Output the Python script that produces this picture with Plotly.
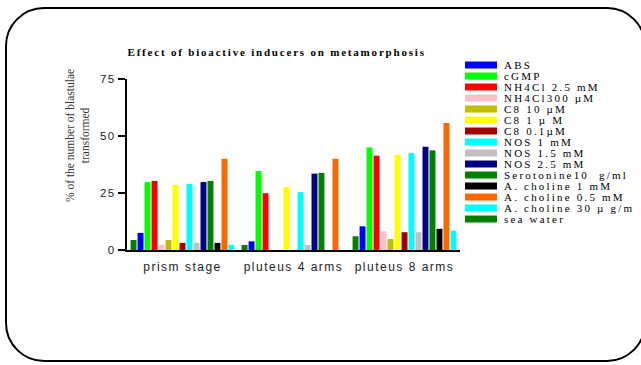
import plotly.graph_objects as go

# ---- data ----
stages = ["prism stage", "pluteus 4 arms", "pluteus 8 arms"]

legend_names = ["ABS", "cGMP", "NH4Cl 2.5 mM", "NH4Cl300 µM", "C8 10 µM", "C8 1 µ M",
                "C8 0.1µM", "NOS 1 mM", "NOS 1.5 mM", "NOS 2.5 mM", "Serotonine10  g/ml",
                "A. choline 1 mM", "A. choline 0.5 mM", "A. choline 30 µ g/m", "sea water"]

abs_vals = [7.5, 3.8, 10.4]
cgmp_vals = [29.8, 34.6, 45.0]
nh4cl_25_vals = [30.3, 24.9, 41.4]
nh4cl_300_vals = [2.3, 0, 8.2]
c8_10_vals = [4.4, 0, 4.8]
c8_1_vals = [28.5, 27.6, 41.7]
c8_01_vals = [3.1, 0, 7.8]
nos_1_vals = [29.0, 25.4, 42.5]
nos_15_vals = [3.1, 2.2, 7.8]
nos_25_vals = [29.8, 33.5, 45.3]
serotonine_vals = [30.3, 33.8, 43.7]
achol_1_vals = [3.1, 0, 9.3]
achol_05_vals = [40.0, 40.0, 55.7]
achol_30_vals = [2.3, 0, 8.5]
sea_water_vals = [4.4, 2.2, 6.0]

series_values = [abs_vals, cgmp_vals, nh4cl_25_vals, nh4cl_300_vals, c8_10_vals, c8_1_vals,
                 c8_01_vals, nos_1_vals, nos_15_vals, nos_25_vals, serotonine_vals,
                 achol_1_vals, achol_05_vals, achol_30_vals, sea_water_vals]

colors = ["#0000FF", "#00FF00", "#FF0000", "#FFC0CB", "#BFBF00", "#FFFF00",
          "#A00000", "#00FFFF", "#C0C0C0", "#000080", "#007F00",
          "#000000", "#FF6600", "#00FFFF", "#007F00"]

y_ticks = [0, 25, 50, 75]

# ---- layout geometry (screen pixels; page margins removed in post script) ----
W, H = 641, 365
L, R, T, B = 127, 641 - 460, 79, 365 - 250
pw, ph = W - L - R, H - T - B


def px2paper(x, y):
    return (x - L) / pw, (H - B - y) / ph


fig = go.Figure()

# bar order in plot: sea water first, then the rest in legend order
plot_order = [14] + list(range(14))
for i in plot_order:
    fig.add_trace(go.Bar(
        x=stages, y=series_values[i], name=legend_names[i],
        marker=dict(color=colors[i], line=dict(width=0)),
        showlegend=False,
    ))

shapes = []
annotations = []

# custom legend
lx0, lx1 = 465, 497
ly0, lstep = 65, 11.0
for k, name in enumerate(legend_names):
    yc = ly0 + k * lstep
    x0, y0 = px2paper(lx0, yc - 3.5)
    x1, y1 = px2paper(lx1, yc + 3.5)
    shapes.append(dict(type="rect", xref="paper", yref="paper", x0=x0, x1=x1, y0=y1, y1=y0,
                       fillcolor=colors[k], line=dict(width=0)))
    tx, ty = px2paper(502, yc)
    annotations.append(dict(text=name, x=tx, y=ty, xref="paper", yref="paper",
                            xanchor="left", yanchor="middle", showarrow=False,
                            font=dict(family="Liberation Serif", size=11, color="#000")))

# y axis title
ax, ay = px2paper(77, 136)
annotations.append(dict(text="% of the number of blastulae<br>transformed", x=ax, y=ay,
                        xref="paper", yref="paper", textangle=-90, showarrow=False,
                        xanchor="center", yanchor="middle",
                        font=dict(family="Liberation Serif", size=11.5, color="#333")))

# title
tx, ty = px2paper(277, 52)
annotations.append(dict(text="<b>Effect of bioactive inducers on metamorphosis</b>", x=tx, y=ty,
                        xref="paper", yref="paper", showarrow=False,
                        xanchor="center", yanchor="middle",
                        font=dict(family="Liberation Serif", size=11, color="#000")))

# rounded border
bx0, bx1, by0, by1, r = 6, 645, 8, 361, 38
k = 0.5523 * r


def P(x, y):
    a, b = px2paper(x, y)
    return f"{a:.5f},{b:.5f}"


path = (f"M {P(bx0 + r, by0)} L {P(bx1 - r, by0)} "
        f"C {P(bx1 - r + k, by0)} {P(bx1, by0 + r - k)} {P(bx1, by0 + r)} "
        f"L {P(bx1, by1 - r)} "
        f"C {P(bx1, by1 - r + k)} {P(bx1 - r + k, by1)} {P(bx1 - r, by1)} "
        f"L {P(bx0 + r, by1)} "
        f"C {P(bx0 + r - k, by1)} {P(bx0, by1 - r + k)} {P(bx0, by1 - r)} "
        f"L {P(bx0, by0 + r)} "
        f"C {P(bx0, by0 + r - k)} {P(bx0 + r - k, by0)} {P(bx0 + r, by0)} Z")
shapes.append(dict(type="path", xref="paper", yref="paper", path=path,
                   line=dict(color="#000", width=2)))

fig.update_layout(
    width=W, height=H,
    margin=dict(l=L, r=R, t=T, b=B, pad=0),
    paper_bgcolor="white", plot_bgcolor="white",
    barmode="group", bargap=0.055, bargroupgap=0.15,
    shapes=shapes, annotations=annotations,
    showlegend=False,
    xaxis=dict(showline=True, linecolor="#000", linewidth=2, ticks="", showgrid=False,
               tickfont=dict(family="Liberation Sans", size=12, color="#222"),
               ticklabelstandoff=5,
               range=[-0.5, 2.5], zeroline=False),
    yaxis=dict(showline=True, linecolor="#000", linewidth=2, ticks="outside", ticklen=7,
               tickwidth=2, tickcolor="#000", showgrid=False, zeroline=False,
               range=[0, 75], tickvals=y_ticks,
               tickfont=dict(family="Liberation Sans", size=11.5, color="#222")),
)

post = """
document.documentElement.style.overflow = 'hidden';
document.body.style.margin = '0';
document.body.style.overflow = 'hidden';
var gd = document.getElementsByClassName('plotly-graph-div')[0];
function sp(sel, v){ gd.querySelectorAll(sel).forEach(function(t){ t.setAttribute('letter-spacing', v); }); }
sp('g.xtick text', '1.5px');
sp('g.ytick text', '1.5px');
var ann = gd.querySelectorAll('g.annotation text');
ann.forEach(function(t, i){
  if (i < 15) {
    var bb = t.getBBox();
    t.setAttribute('text-anchor', 'start');
    t.setAttribute('x', bb.x);
    t.setAttribute('letter-spacing', '2.2px');
  } else if (i == 16) {
    t.setAttribute('letter-spacing', '1.8px');
  }
});
"""

fig.write_html("out.html", post_script=post, config={"displayModeBar": False})
